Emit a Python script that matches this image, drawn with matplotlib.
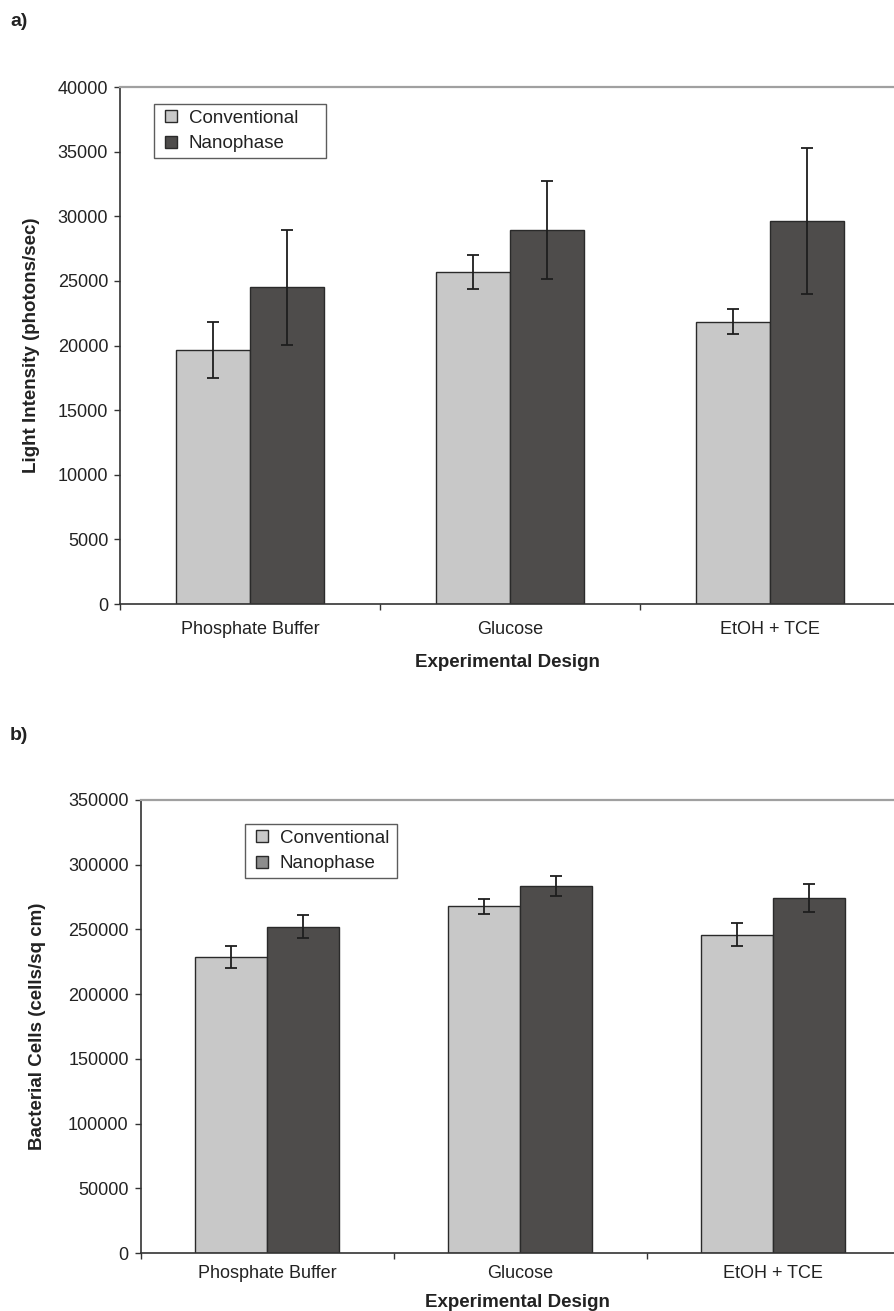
import matplotlib
matplotlib.use("Agg")
import matplotlib.pyplot as plt
from matplotlib.lines import Line2D

plt.rcParams['font.family'] = ['Liberation Sans', 'DejaVu Sans']

categories = ['Phosphate Buffer', 'Glucose', 'EtOH + TCE']
series = ['Conventional', 'Nanophase']

# panel a: light intensity
light_conv = [19650, 25700, 21850]
light_conv_err = [2150, 1320, 980]
light_nano = [24500, 28950, 29650]
light_nano_err = [4450, 3800, 5650]

# panel b: bacterial cells
cells_conv = [228500, 268000, 246000]
cells_conv_err = [8500, 5800, 9000]
cells_nano = [252000, 283500, 274500]
cells_nano_err = [8800, 7700, 10800]

c_conv = '#c8c8c8'
c_nano = '#4e4c4b'
c_edge = '#2a2a2a'

W, H = 894, 1311
fig = plt.figure(figsize=(W / 100, H / 100), dpi=100)


def px_axes(left, top, bottom):
    return fig.add_axes([left / W, 1 - bottom / H, 1 - left / W, (bottom - top) / H])


def square(color, label):
    return Line2D([], [], linestyle='none', marker='s', markersize=9.3,
                  markerfacecolor=color, markeredgecolor=c_edge, markeredgewidth=1.0, label=label)


def draw(ax, conv, conv_err, nano, nano_err, ymax, ystep, ylabel, handles, legbox, tpad, lpad):
    w = 1 / 3.5
    x = range(len(categories))
    xc = [i - w / 2 for i in x]
    xn = [i + w / 2 for i in x]
    ax.bar(xc, conv, w, color=c_conv, edgecolor=c_edge, linewidth=1.0, zorder=2)
    ax.bar(xn, nano, w, color=c_nano, edgecolor=c_edge, linewidth=1.0, zorder=2)
    ax.errorbar(xc, conv, yerr=conv_err, fmt='none', ecolor='#1e1e1e',
                elinewidth=1.3, capsize=4.5, capthick=1.3, zorder=3)
    ax.errorbar(xn, nano, yerr=nano_err, fmt='none', ecolor='#1e1e1e',
                elinewidth=1.3, capsize=4.5, capthick=1.3, zorder=3)

    ax.set_xlim(-0.5, 2.478)
    ax.set_ylim(0, ymax)
    ax.set_yticks(range(0, ymax + 1, ystep))
    ax.set_xticks([-0.5, 0.5, 1.5])
    ax.set_xticklabels(['', '', ''])
    ax.set_xticks(list(x), minor=True)
    ax.set_xticklabels(categories, minor=True, fontsize=13, color='#222222')
    ax.tick_params(axis='x', which='minor', length=0, pad=tpad)
    ax.tick_params(axis='x', which='major', direction='out', length=4.5, width=1, color='#333333')
    ax.tick_params(axis='y', direction='out', length=4.5, width=1, color='#333333',
                   labelsize=13, labelcolor='#222222', pad=4)

    for s in ['left', 'bottom']:
        ax.spines[s].set_color('#333333')
        ax.spines[s].set_linewidth(1.2)
    ax.spines['top'].set_color('#a0a0a0')
    ax.spines['top'].set_linewidth(1.6)
    ax.spines['right'].set_visible(False)

    ax.set_xlabel('Experimental Design', fontsize=13.5, fontweight='bold', color='#222222', labelpad=lpad)
    ax.set_ylabel(ylabel, fontsize=13.5, fontweight='bold', color='#222222')

    leg = ax.legend(handles=handles, loc='upper left', bbox_to_anchor=legbox, mode='expand',
                    fontsize=13.5, frameon=True, fancybox=False, borderpad=0.3,
                    handlelength=1.2, handletextpad=0.35,
                    labelspacing=0.45, borderaxespad=0)
    leg.get_frame().set_edgecolor('#333333')
    leg.get_frame().set_linewidth(1.0)
    for t in leg.get_texts():
        t.set_color('#222222')


def legend_box(ax_left, ax_top, ax_bottom, x0, x1, y0):
    aw = W - ax_left
    ah = ax_bottom - ax_top
    return ((x0 - ax_left) / aw, (ax_bottom - y0) / ah - 0.01, (x1 - x0) / aw, 0.01)


# panel a
ax1 = px_axes(120, 87, 604)
h1 = [square(c_conv, series[0]), square(c_nano, series[1])]
draw(ax1, light_conv, light_conv_err, light_nano, light_nano_err, 40000, 5000,
     'Light Intensity (photons/sec)', h1, legend_box(120, 87, 604, 154, 326, 104), 12, 12)
ax1.yaxis.set_label_coords(-(120 - 40) / (W - 120), 0.5)

# panel b
ax2 = px_axes(140.5, 800, 1253)
h2 = [square(c_conv, series[0]), square('#8c8c8c', series[1])]
draw(ax2, cells_conv, cells_conv_err, cells_nano, cells_nano_err, 350000, 50000,
     'Bacterial Cells (cells/sq cm)', h2, legend_box(140.5, 800, 1253, 245, 397, 824), 9, 8)
ax2.yaxis.set_label_coords(-(140.5 - 46) / (W - 140.5), 0.5)

fig.text(10 / W, 1 - 22 / H, 'a)', fontsize=14, fontweight='bold', color='#222222', va='center')
fig.text(10 / W, 1 - 736 / H, 'b)', fontsize=14, fontweight='bold', color='#222222', va='center')

fig.savefig('out.png', dpi=100, facecolor='white')
